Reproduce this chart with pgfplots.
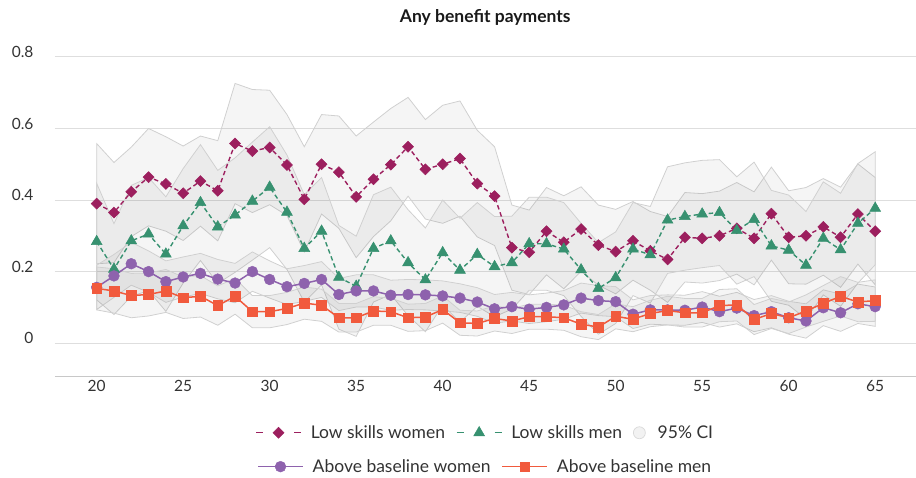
\documentclass[border=0pt]{standalone}
\usepackage{fontspec}
\setmainfont{Lato}
\usepackage{pgfplots}
\pgfplotsset{compat=1.18}
\usepackage{pgfplotstable}
\usepgfplotslibrary{fillbetween}

\definecolor{lswc}{HTML}{9C1F5E}
\definecolor{lsmc}{HTML}{379170}
\definecolor{abwc}{HTML}{8E62AD}
\definecolor{abmc}{HTML}{F15A3D}
\definecolor{gridc}{HTML}{DEDEDE}
\definecolor{bandline}{HTML}{D0D0D0}
\definecolor{txt}{HTML}{333333}

% Share receiving any benefit payment by age; *ci columns hold the 95% CI half-width
\pgfplotstableread{
age lsw lswci lsm lsmci abw abwci abm abmci
20 0.390 0.168 0.284 0.163 0.156 0.062 0.153 0.060
21 0.365 0.140 0.207 0.127 0.188 0.060 0.146 0.062
22 0.423 0.125 0.286 0.155 0.222 0.060 0.133 0.062
23 0.464 0.136 0.305 0.158 0.200 0.058 0.136 0.060
24 0.445 0.132 0.249 0.160 0.172 0.058 0.146 0.060
25 0.419 0.132 0.328 0.160 0.185 0.056 0.127 0.058
26 0.453 0.126 0.393 0.162 0.195 0.056 0.131 0.058
27 0.426 0.140 0.325 0.158 0.179 0.055 0.105 0.055
28 0.558 0.168 0.358 0.160 0.168 0.055 0.131 0.050
29 0.537 0.172 0.397 0.165 0.200 0.055 0.088 0.045
30 0.547 0.160 0.436 0.169 0.178 0.052 0.088 0.045
31 0.498 0.141 0.366 0.160 0.158 0.050 0.097 0.045
32 0.402 0.147 0.265 0.150 0.167 0.050 0.112 0.045
33 0.500 0.139 0.313 0.150 0.178 0.050 0.106 0.045
34 0.478 0.157 0.184 0.145 0.136 0.045 0.071 0.040
35 0.409 0.170 0.159 0.140 0.146 0.045 0.071 0.040
36 0.458 0.160 0.265 0.150 0.146 0.045 0.090 0.040
37 0.499 0.157 0.286 0.150 0.134 0.042 0.088 0.038
38 0.549 0.138 0.225 0.148 0.136 0.042 0.071 0.038
39 0.486 0.139 0.177 0.145 0.135 0.042 0.073 0.038
40 0.500 0.165 0.253 0.147 0.132 0.042 0.094 0.038
41 0.516 0.161 0.204 0.145 0.126 0.040 0.057 0.035
42 0.446 0.149 0.248 0.145 0.115 0.040 0.055 0.035
43 0.411 0.138 0.214 0.140 0.096 0.040 0.069 0.035
44 0.267 0.119 0.225 0.130 0.102 0.040 0.062 0.035
45 0.254 0.118 0.278 0.130 0.095 0.040 0.074 0.035
46 0.313 0.122 0.278 0.130 0.100 0.040 0.074 0.035
47 0.282 0.130 0.263 0.130 0.107 0.040 0.071 0.035
48 0.319 0.118 0.205 0.130 0.126 0.042 0.053 0.035
49 0.274 0.112 0.153 0.128 0.119 0.042 0.045 0.035
50 0.256 0.118 0.183 0.128 0.116 0.042 0.075 0.035
51 0.286 0.110 0.263 0.130 0.081 0.040 0.067 0.035
52 0.258 0.110 0.247 0.135 0.093 0.040 0.083 0.037
53 0.234 0.120 0.344 0.149 0.093 0.042 0.091 0.040
54 0.296 0.125 0.354 0.150 0.092 0.042 0.085 0.040
55 0.293 0.125 0.361 0.150 0.101 0.043 0.085 0.040
56 0.300 0.125 0.365 0.148 0.088 0.043 0.105 0.045
57 0.321 0.128 0.315 0.150 0.098 0.044 0.107 0.045
58 0.293 0.130 0.346 0.160 0.077 0.045 0.066 0.042
59 0.362 0.130 0.272 0.155 0.088 0.045 0.083 0.042
60 0.296 0.130 0.260 0.154 0.071 0.046 0.071 0.044
61 0.300 0.135 0.218 0.150 0.062 0.048 0.090 0.045
62 0.325 0.135 0.293 0.158 0.099 0.050 0.111 0.050
63 0.296 0.140 0.261 0.158 0.085 0.052 0.131 0.055
64 0.361 0.140 0.335 0.167 0.110 0.055 0.115 0.055
65 0.313 0.150 0.377 0.158 0.102 0.055 0.119 0.058
}\benefits

\pgfplotsset{
  plotframe/.style={at={(55pt,98pt)}, anchor=south west, scale only axis,
    width=861pt, height=320pt},
  legendrow/.style={legend style={at={(0.5,#1)}, anchor=center, draw=none,
    fill=none, font=\fontsize{17.5}{20}\selectfont, text=txt,
    nodes={inner sep=2pt},
    /tikz/every even column/.append style={column sep=9pt}},
    legend image code/.code={\draw[mark repeat=2,mark phase=2]
      plot coordinates {(0pt,0pt) (22.5pt,0pt) (45pt,0pt)};
      \path (52pt,0pt);}},
  band/.style={fill=black, fill opacity=0.04, draw=bandline, line width=0.8pt},
}

\begin{document}
\begin{tikzpicture}
\path (0pt,0pt) rectangle (916pt,475pt);
\begin{axis}[
  plotframe,
  xmin=17.59, xmax=67.33, ymin=-0.094, ymax=0.8,
  xtick={20,25,...,65}, ytick={0,0.2,0.4,0.6,0.8},
  ymajorgrids, grid style={gridc, line width=1pt},
  axis x line*=bottom, axis y line*=left,
  x axis line style={draw=gridc!90!black, line width=1pt, -},
  y axis line style={draw=none},
  major tick length=0pt, tick style={draw=none},
  ticklabel style={font=\fontsize{15.5}{18}\selectfont, text=txt},
  /pgf/number format/assume math mode=true,
  yticklabel style={anchor=east, xshift=-18pt, yshift=5pt},
  title={Any benefit payments},
  title style={at={(0.5,1.105)}, anchor=center,
    font=\bfseries\fontsize{17.5}{20}\selectfont, text=black!90},
  legendrow=-0.175, legend columns=3,
]
% confidence bands
\addplot[draw=none, name path=lswU, forget plot] table[x=age, y expr=\thisrow{lsw}+\thisrow{lswci}] {\benefits};
\addplot[draw=none, name path=lswL, forget plot] table[x=age, y expr=\thisrow{lsw}-\thisrow{lswci}] {\benefits};
\addplot[band, forget plot] fill between[of=lswU and lswL];
\addplot[draw=none, name path=lsmU, forget plot] table[x=age, y expr=\thisrow{lsm}+\thisrow{lsmci}] {\benefits};
\addplot[draw=none, name path=lsmL, forget plot] table[x=age, y expr=\thisrow{lsm}-\thisrow{lsmci}] {\benefits};
\addplot[band, forget plot] fill between[of=lsmU and lsmL];
\addplot[draw=none, name path=abwU, forget plot] table[x=age, y expr=\thisrow{abw}+\thisrow{abwci}] {\benefits};
\addplot[draw=none, name path=abwL, forget plot] table[x=age, y expr=\thisrow{abw}-\thisrow{abwci}] {\benefits};
\addplot[band, forget plot] fill between[of=abwU and abwL];
\addplot[draw=none, name path=abmU, forget plot] table[x=age, y expr=\thisrow{abm}+\thisrow{abmci}] {\benefits};
\addplot[draw=none, name path=abmL, forget plot] table[x=age, y expr=\thisrow{abm}-\thisrow{abmci}] {\benefits};
\addplot[band, forget plot] fill between[of=abmU and abmL];

% point estimates
\addplot[lswc, line width=1.4pt, dash pattern=on 4.5pt off 3pt, forget plot,
  mark=square*, mark size=3.9pt, mark options={solid, rotate=45, fill=lswc, line width=0.5pt}]
  table[x=age, y=lsw] {\benefits};
\addplot[lsmc, line width=1.4pt, dash pattern=on 4.5pt off 3pt, forget plot,
  mark=triangle*, mark size=6.3pt, mark options={solid, fill=lsmc, line width=0.5pt}]
  table[x=age, y=lsm] {\benefits};
\addplot[abwc, line width=1.5pt, forget plot,
  mark=*, mark size=5.4pt, mark options={fill=abwc, line width=0.5pt}]
  table[x=age, y=abw] {\benefits};
\addplot[abmc, line width=1.5pt, forget plot,
  mark=square*, mark size=4.9pt, mark options={fill=abmc, line width=0.5pt}]
  table[x=age, y=abm] {\benefits};

\addlegendimage{lswc, line width=1.4pt, dash pattern=on 7pt off 31pt,
  mark=square*, mark size=3.9pt, mark options={solid, rotate=45, fill=lswc, line width=0.5pt}}
\addlegendentry{Low skills women}
\addlegendimage{lsmc, line width=1.4pt, dash pattern=on 7pt off 31pt,
  mark=triangle*, mark size=6.3pt, mark options={solid, fill=lsmc, line width=0.5pt}}
\addlegendentry{Low skills men}
\addlegendimage{black!15, fill=black!5, line width=0.7pt,
  legend image code/.code={\draw (6pt,0pt) circle[radius=6pt]; \path (22pt,0pt);}}
\addlegendentry{95\% CI}
\end{axis}

\begin{axis}[
  plotframe, hide axis, xmin=0, xmax=1, ymin=0, ymax=1,
  legendrow=-0.281, legend columns=2,
]
\addlegendimage{abwc, line width=1.5pt, mark=*, mark size=5.4pt,
  mark options={fill=abwc, line width=0.5pt}}
\addlegendentry{Above baseline women}
\addlegendimage{abmc, line width=1.5pt, mark=square*, mark size=4.9pt,
  mark options={fill=abmc, line width=0.5pt}}
\addlegendentry{Above baseline men}
\end{axis}
\end{tikzpicture}
\end{document}
